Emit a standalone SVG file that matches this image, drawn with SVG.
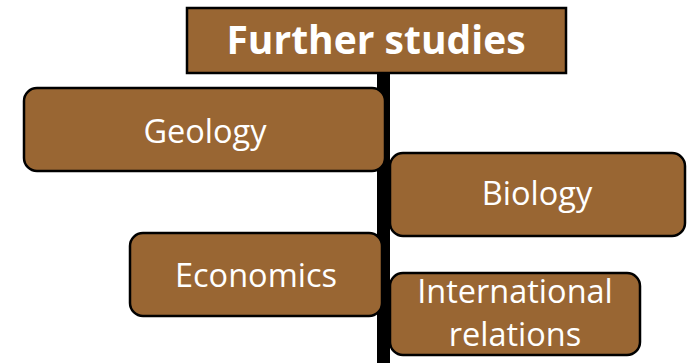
<svg xmlns="http://www.w3.org/2000/svg" width="700" height="363" viewBox="0 0 700 363">
<style>
.box{fill:#996633;stroke:#000;stroke-width:2.5}
.t{fill:#fff;font-family:"Open Sans","Noto Sans",sans-serif;font-size:32.5px;text-anchor:middle}
.title{fill:#fff;font-family:"Open Sans","Noto Sans",sans-serif;font-size:39px;font-weight:bold;text-anchor:middle}
</style>
<rect width="700" height="363" fill="#fff"/>
<g id="connectors">
<rect x="377" y="60" width="13" height="303" fill="#000"/>
</g>
<g id="title">
<rect class="box" x="187" y="8" width="379" height="65" stroke-width="3"/>
<text class="title" x="376" y="54">Further studies</text>
</g>
<g id="geology">
<rect class="box" x="24" y="88" width="361" height="83" rx="13"/>
<text class="t" x="205" y="143">Geology</text>
</g>
<g id="biology">
<rect class="box" x="390" y="153" width="295" height="83" rx="13"/>
<text class="t" x="537" y="205">Biology</text>
</g>
<g id="economics">
<rect class="box" x="130" y="233" width="252" height="83" rx="13"/>
<text class="t" x="256" y="287">Economics</text>
</g>
<g id="international">
<rect class="box" x="390" y="273" width="250" height="82" rx="13"/>
<text class="t" x="515" y="303">International</text>
<text class="t" x="515" y="346">relations</text>
</g>
</svg>
